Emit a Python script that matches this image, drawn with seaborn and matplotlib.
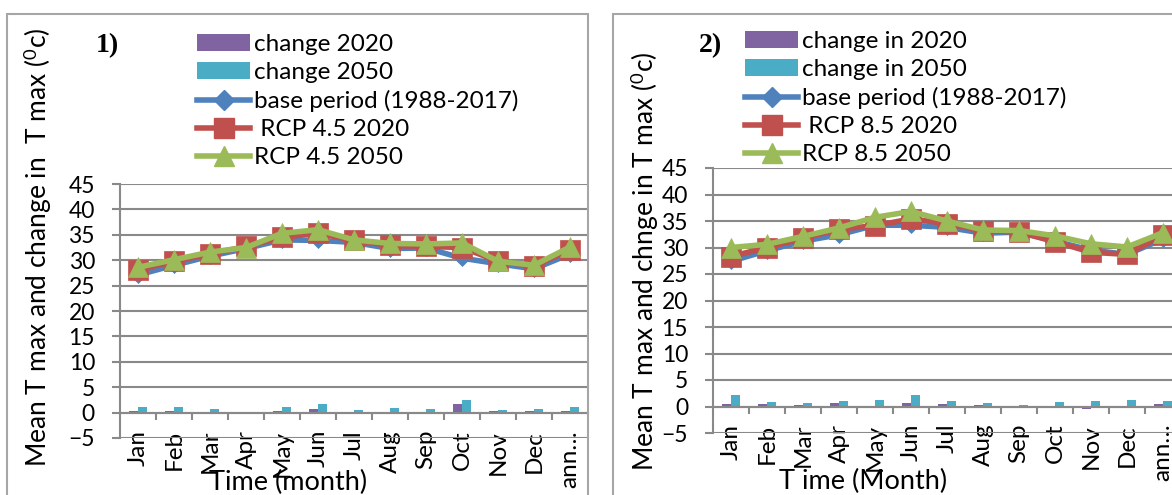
import numpy as np
import pandas as pd
import seaborn as sns
import matplotlib.pyplot as plt
from matplotlib.patches import Patch, Rectangle
from matplotlib.lines import Line2D

# categories
months = ['Jan', 'Feb', 'Mar', 'Apr', 'May', 'Jun', 'Jul', 'Aug', 'Sep', 'Oct', 'Nov', 'Dec', 'ann…']

# panel 1) RCP 4.5
base_45 = [27.1, 29.0, 30.8, 32.3, 34.0, 33.9, 33.5, 32.3, 32.4, 30.4, 29.3, 28.3, 31.2]
rcp45_2020 = [28.1, 29.8, 31.2, 32.7, 34.5, 35.3, 33.9, 32.9, 32.7, 32.5, 29.8, 28.9, 32.0]
rcp45_2050 = [28.6, 30.1, 31.6, 32.5, 35.3, 36.0, 34.0, 33.3, 33.2, 33.4, 29.8, 29.0, 32.6]
chg45_2020 = [0.4, 0.3, 0.1, 0.1, 0.3, 0.8, 0.1, 0.0, 0.1, 1.7, 0.3, 0.4, 0.3]
chg45_2050 = [1.2, 1.1, 0.7, 0.1, 1.1, 1.7, 0.5, 1.0, 0.7, 2.4, 0.5, 0.7, 1.2]

# panel 2) RCP 8.5
base_85 = [27.4, 29.4, 31.2, 32.4, 34.2, 34.2, 33.8, 32.7, 32.9, 31.2, 29.5, 28.7, 31.6]
rcp85_2020 = [28.3, 30.0, 31.7, 33.5, 34.1, 35.4, 34.5, 33.2, 32.9, 31.1, 29.1, 28.7, 32.3]
rcp85_2050 = [30.0, 30.6, 32.1, 33.7, 35.7, 36.8, 35.0, 33.3, 33.2, 32.2, 30.7, 30.1, 32.8]
chg85_2020 = [0.5, 0.4, 0.3, 0.75, 0.0, 0.75, 0.4, 0.25, 0.0, 0.0, -0.4, 0.0, 0.5]
chg85_2050 = [2.1, 0.9, 0.7, 1.0, 1.2, 2.1, 1.0, 0.6, 0.3, 0.8, 1.1, 1.3, 1.1]

purple, cyan, blue, red, green = '#8064A2', '#4BACC6', '#4F81BD', '#C0504D', '#9BBB59'
grid_col = '#898989'
box_col = '#a6a6a6'

plt.rcParams['font.family'] = ['Lato', 'DejaVu Sans']
plt.rcParams['mathtext.fontset'] = 'custom'
plt.rcParams['mathtext.rm'] = 'Lato'
plt.rcParams['mathtext.it'] = 'Lato:italic'

W, H = 1172, 495
fig = plt.figure(figsize=(W / 100, H / 100), dpi=100)


def fx(x):
    return x / W


def fy(y):
    return 1 - y / H


def panel(left, top, bottom, c20, c50, base, r20, r50, bar_labels):
    ax = fig.add_axes([fx(left), fy(bottom), fx(468), (bottom - top) / H])
    bars = pd.DataFrame({'month': months * 2,
                         'value': c20 + c50,
                         'series': [bar_labels[0]] * 13 + [bar_labels[1]] * 13})
    sns.barplot(data=bars, x='month', y='value', hue='series', palette=[purple, cyan],
                width=0.5, saturation=1, errorbar=None, legend=False, ax=ax)
    for vals, col, mk, ms in [(base, blue, 'D', 8), (r20, red, 's', 14), (r50, green, '^', 15)]:
        sns.pointplot(x=months, y=vals, color=col, marker=mk, markersize=ms, linewidth=4,
                      markeredgewidth=0.5, markeredgecolor=col, errorbar=None, ax=ax)
    ax.set_xlim(-0.5, 12.5)
    ax.set_ylim(-5, 45)
    ax.set_yticks(range(-5, 50, 5))
    ax.grid(axis='y', color=grid_col, lw=1.5)
    ax.set_axisbelow(True)
    for s in ['top', 'right']:
        ax.spines[s].set_visible(False)
    ax.spines['bottom'].set_position(('data', 0))
    for s in ['bottom', 'left']:
        ax.spines[s].set_color(grid_col)
        ax.spines[s].set_linewidth(1.5)
    ax.tick_params(axis='y', length=6, color=grid_col, width=1.5, pad=12, labelsize=16.5)
    ax.set_xticks(range(13))
    ax.set_xticklabels(months, rotation=90)
    ax.tick_params(axis='x', which='major', length=0, pad=12.5, labelsize=17.5)
    ax.set_xticks(np.arange(0.5, 12, 1), minor=True)
    ax.tick_params(axis='x', which='minor', length=5, color=grid_col, width=1.5)
    ax.set_xlabel('')
    ax.set_ylabel('')
    return ax


def legend(x, y, labels):
    handles = [Patch(facecolor=purple), Patch(facecolor=cyan),
               Line2D([], [], color=blue, lw=4, marker='D', ms=10),
               Line2D([], [], color=red, lw=4, marker='s', ms=14),
               Line2D([], [], color=green, lw=4, marker='^', ms=15)]
    fig.legend(handles, labels, loc='upper left', bbox_to_anchor=(fx(x), fy(y)),
               frameon=False, borderpad=0, borderaxespad=0, handlelength=2.2,
               handletextpad=0.15, labelspacing=0.29, fontsize=17.5)


# panel frames
fig.add_artist(Rectangle((fx(7), -0.05), fx(588 - 7), fy(14) + 0.05, transform=fig.transFigure,
                         fill=False, ec=box_col, lw=1.5))
fig.add_artist(Rectangle((fx(613), -0.05), fx(700), fy(14) + 0.05, transform=fig.transFigure,
                         fill=False, ec=box_col, lw=1.5))

panel(120, 184, 438, chg45_2020, chg45_2050, base_45, rcp45_2020, rcp45_2050,
      ['change 2020', 'change 2050'])
legend(197, 34, ['change 2020', 'change 2050', 'base period (1988-2017)',
                 ' RCP 4.5 2020', 'RCP 4.5 2050'])
fig.text(fx(107), fy(46), '1)', family='Liberation Serif', weight='bold', size=20,
         ha='center', va='center')
fig.text(fx(38), fy(247), r'Mean T max and change in  T max ($^0$c)', rotation=90,
         ha='center', va='center', size=19)
fig.text(fx(288), fy(482), 'Time (month)', ha='center', va='center', size=19.5)

panel(713, 168, 433, chg85_2020, chg85_2050, base_85, rcp85_2020, rcp85_2050,
      ['change in 2020', 'change in 2050'])
legend(745, 31, ['change in 2020', 'change in 2050', 'base period (1988-2017)',
                 ' RCP 8.5 2020', 'RCP 8.5 2050'])
fig.text(fx(710), fy(46), '2)', family='Liberation Serif', weight='bold', size=20,
         ha='center', va='center')
fig.text(fx(645), fy(261), r'Mean T max and chnge in T max ($^0$c)', rotation=90,
         ha='center', va='center', size=19)
fig.text(fx(863), fy(481), 'T ime (Month)', ha='center', va='center', size=19.5)

fig.savefig('out.png', dpi=100)
